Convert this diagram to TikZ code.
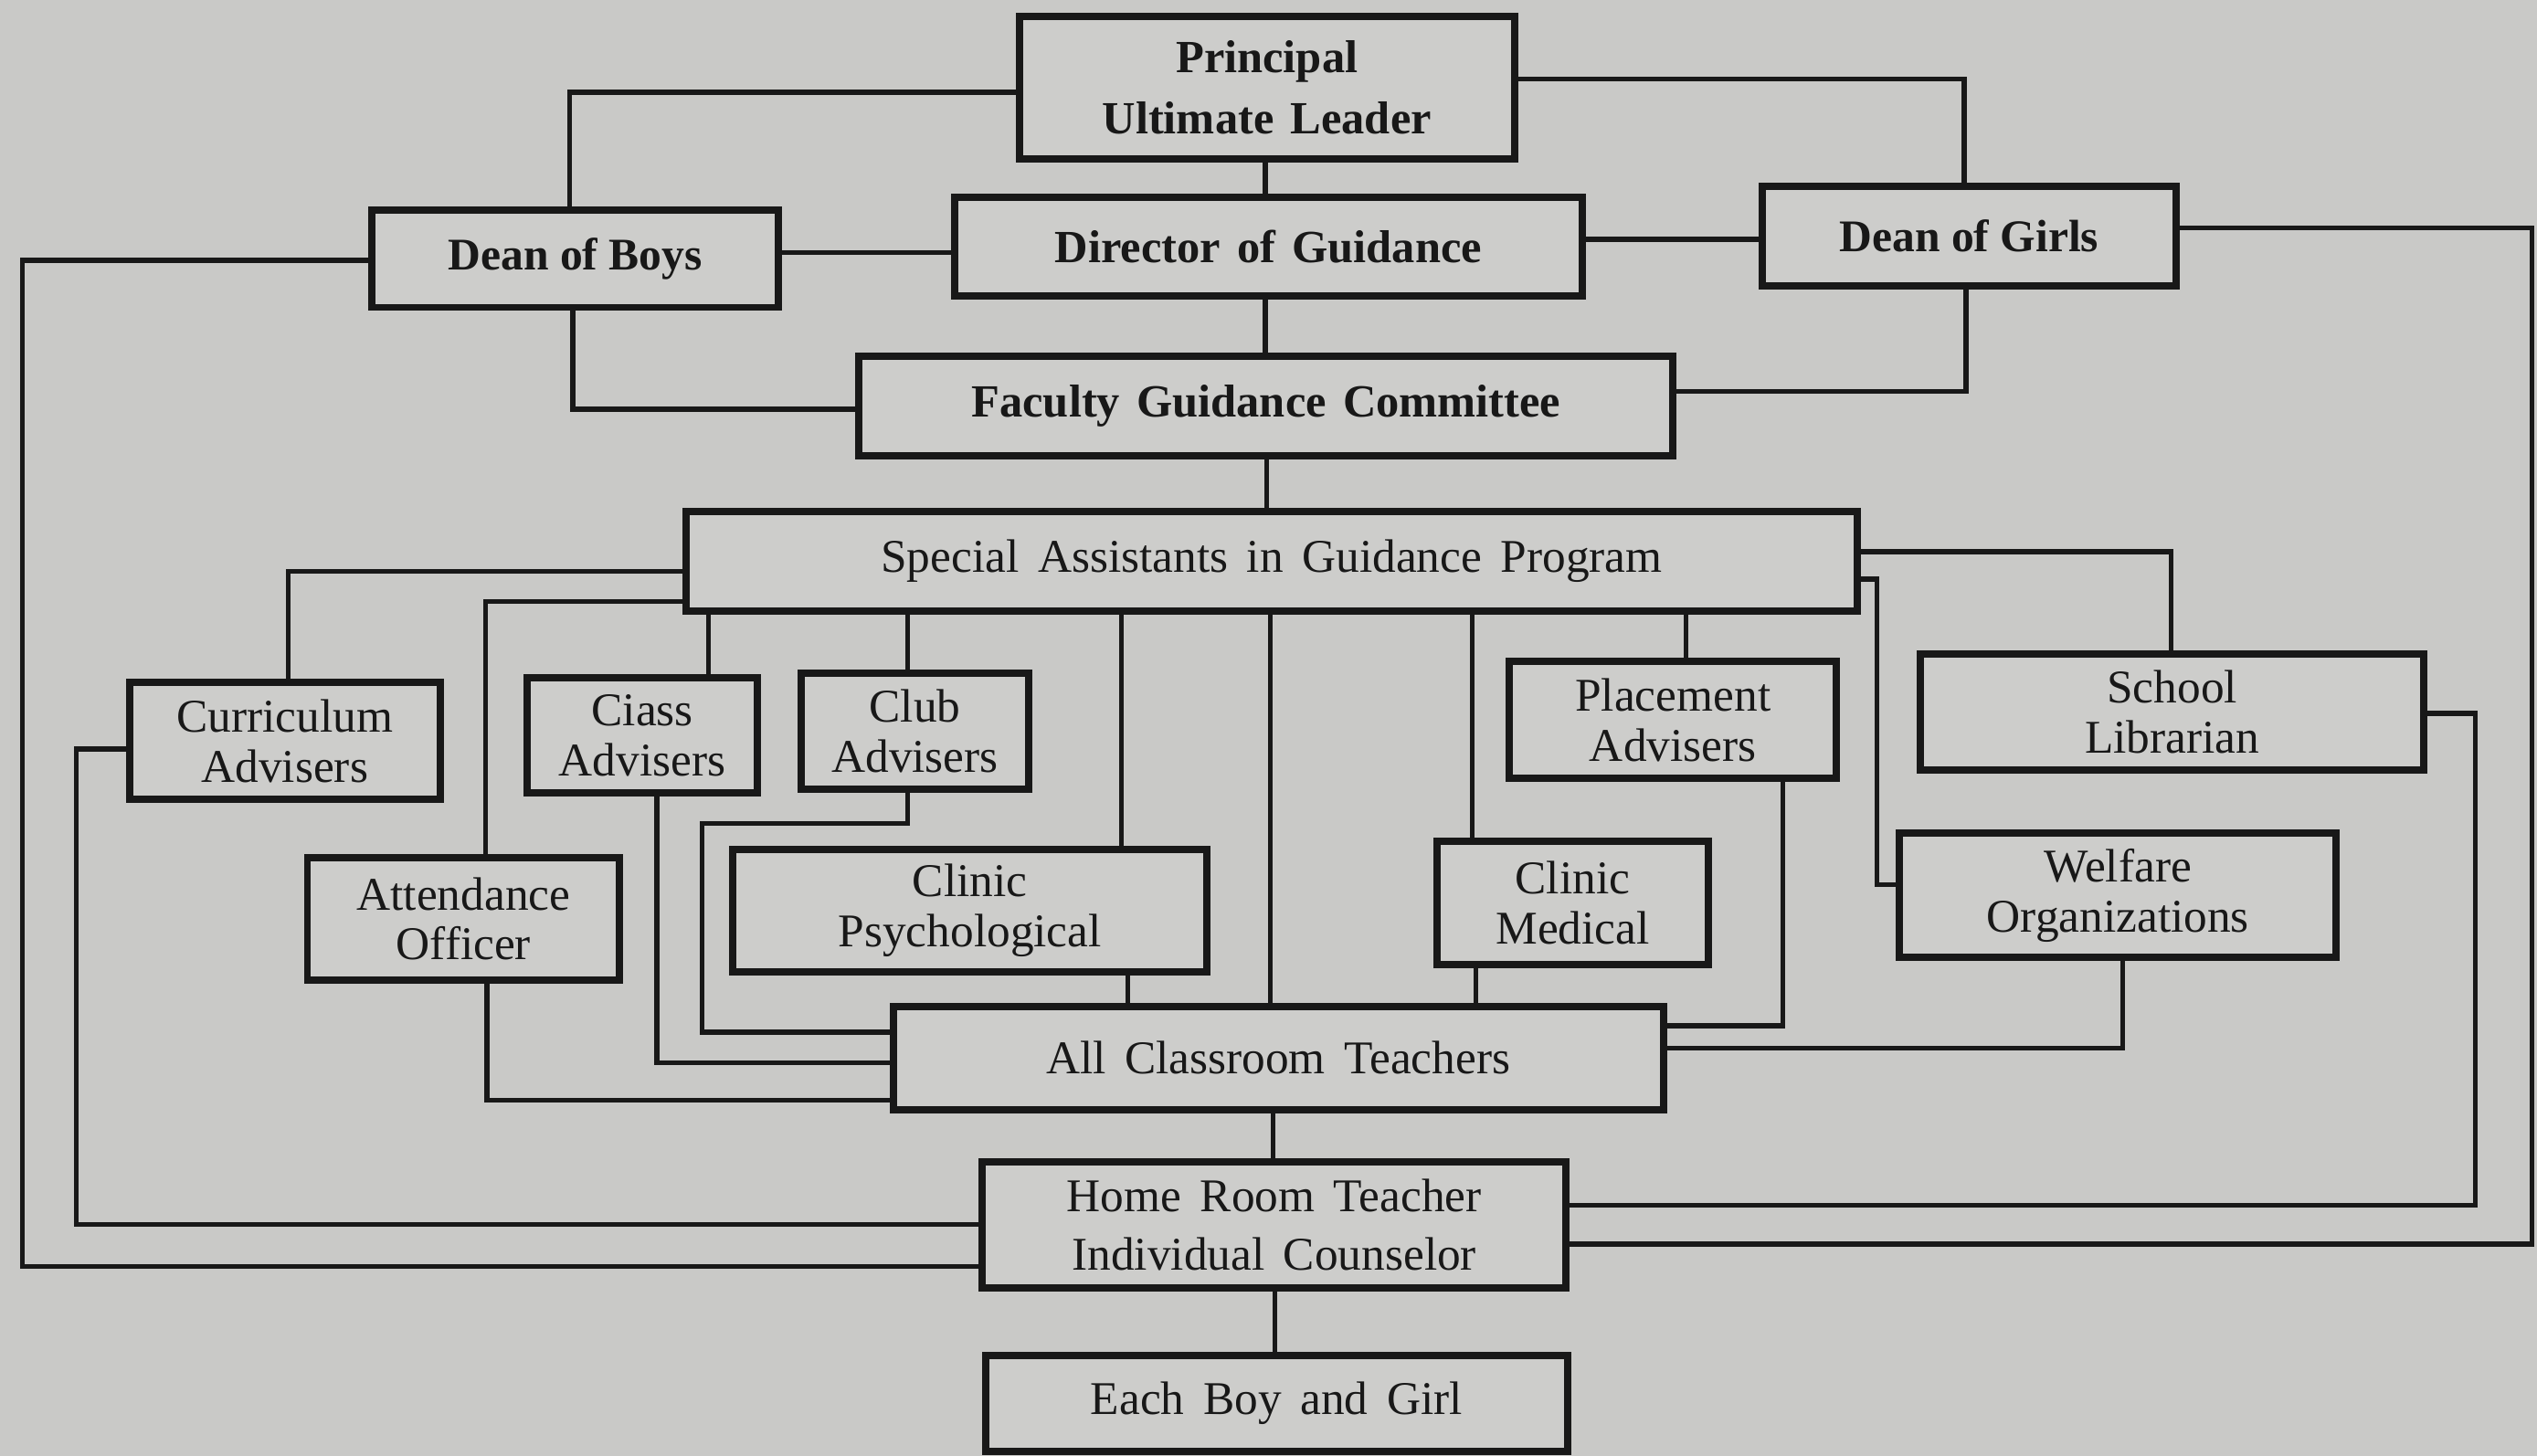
\documentclass[tikz,border=0pt]{standalone}
\usepackage{fontspec}
\setmainfont{Liberation Serif}
\definecolor{paper}{RGB}{201,201,199}
\definecolor{boxfill}{RGB}{205,205,203}
\definecolor{ink}{RGB}{24,24,24}
\newcommand\wideBold{\bfseries\fontsize{28.5}{38}\selectfont\spaceskip=0.36em plus 0.1em\relax}
\newcommand\wideReg{\fontsize{29}{31}\selectfont\spaceskip=0.4em plus 0.1em\relax}
\newcommand\wideRegB{\fontsize{29}{36}\selectfont\spaceskip=0.4em plus 0.1em\relax}
\tikzset{
  box/.style={draw=ink, line width=4.5pt, fill=boxfill, inner sep=0pt, align=center, text=ink},
  bbox/.style={box, font=\wideBold},
  rbox/.style={box, font=\wideReg},
  wire/.style={draw=ink, line width=3pt}
}
\begin{document}
\begin{tikzpicture}[x=1pt,y=-1pt]
\fill[paper] (0,0) rectangle (1568,900);
\useasboundingbox (0,0) rectangle (1568,900);

\coordinate (oL) at (14,783);
\coordinate (iL) at (47,757);
\coordinate (oR) at (1565,769);
\coordinate (iR) at (1530,745);

% boxes
\node[bbox, minimum width=306pt, minimum height=88pt] (P) at (783,54) {Principal\\Ultimate Leader};
\node[bbox, minimum width=251pt, minimum height=60pt, font=\bfseries\fontsize{28}{34}\selectfont] (DB) at (355.5,160) {Dean of Boys};
\node[bbox, minimum width=388pt, minimum height=61pt] (DIR) at (784,152.5) {Director of Guidance};
\node[bbox, minimum width=256pt, minimum height=62pt, font=\bfseries\fontsize{28}{34}\selectfont] (DG) at (1217,146) {Dean of Girls};
\node[bbox, minimum width=503pt, minimum height=62pt] (FGC) at (782.5,251) {Faculty Guidance Committee};
\node[rbox, minimum width=724pt, minimum height=62pt] (SA) at (786,347) {Special Assistants in Guidance Program};
\node[rbox, minimum width=192pt, minimum height=72pt] (CUR) at (176,458) {Curriculum\\Advisers};
\node[rbox, minimum width=142pt, minimum height=71pt] (CL) at (397,454.5) {Ciass\\Advisers};
\node[rbox, minimum width=141pt, minimum height=72pt] (CB) at (565.5,452) {Club\\Advisers};
\node[rbox, minimum width=202pt, minimum height=72pt] (PL) at (1034,445) {Placement\\Advisers};
\node[rbox, minimum width=311pt, minimum height=72pt] (SL) at (1342.5,440) {School\\Librarian};
\node[rbox, minimum width=193pt, minimum height=76pt] (ATT) at (286.5,568) {Attendance\\Officer};
\node[rbox, minimum width=293pt, minimum height=76pt] (CP) at (599.5,563) {Clinic\\Psychological};
\node[rbox, minimum width=168pt, minimum height=76pt] (CM) at (972,558) {Clinic\\Medical};
\node[rbox, minimum width=270pt, minimum height=77pt] (WO) at (1309,553.5) {Welfare\\Organizations};
\node[rbox, minimum width=476pt, minimum height=64pt] (ACT) at (790,654) {All Classroom Teachers};
\node[rbox, font=\wideRegB, minimum width=361pt, minimum height=78pt] (HR) at (787.5,757) {Home Room Teacher\\Individual Counselor};
\node[rbox, minimum width=360pt, minimum height=59pt] (EB) at (789,867.5) {Each Boy and Girl};

% upper connectors
\draw[wire] (P.west |- 0,57) -| (DB.north -| 352,0);
\draw[wire] (P.east |- 0,49) -| (DG.north -| 1214,0);
\draw[wire] (P.south -| 782,0) -- (DIR.north -| 782,0);
\draw[wire] (DB.east |- 0,156) -- (DIR.west |- 0,156);
\draw[wire] (DIR.east |- 0,148) -- (DG.west |- 0,148);
\draw[wire] (DIR.south -| 782,0) -- (FGC.north -| 782,0);
\draw[wire] (DB.south -| 354,0) |- (FGC.west |- 0,253);
\draw[wire] (DG.south -| 1215,0) |- (FGC.east |- 0,242);
\draw[wire] (FGC.south -| 783,0) -- (SA.north -| 783,0);

% outer loops to Home Room Teacher
\draw[wire] (DB.west |- 0,161) -| (oL) -- (HR.west |- oL);
\draw[wire] (CUR.west |- 0,463) -| (iL) -- (HR.west |- iL);
\draw[wire] (DG.east |- 0,141) -| (oR) -- (HR.east |- oR);
\draw[wire] (SL.east |- 0,441) -| (iR) -- (HR.east |- iR);

% special assistants branches
\draw[wire] (SA.west |- 0,353) -| (CUR.north -| 178,0);
\draw[wire] (SA.west |- 0,372) -| (ATT.north -| 300,0);
\draw[wire] (SA.south -| 438,0) -- (CL.north -| 438,0);
\draw[wire] (SA.south -| 561,0) -- (CB.north -| 561,0);
\draw[wire] (SA.south -| 693,0) -- (CP.north -| 693,0);
\draw[wire] (SA.south -| 785,0) -- (ACT.north -| 785,0);
\draw[wire] (SA.south -| 910,0) -- (CM.north -| 910,0);
\draw[wire] (SA.south -| 1042,0) -- (PL.north -| 1042,0);
\draw[wire] (SA.east |- 0,341) -| (SL.north -| 1342,0);
\draw[wire] (SA.east |- 0,358) -| (1160,547) -- (WO.west |- 0,547);

% into All Classroom Teachers
\draw[wire] (CL.south -| 406,0) |- (ACT.west |- 0,657);
\draw[wire] (CB.south -| 561,0) |- (434,509) |- (ACT.west |- 0,638);
\draw[wire] (ATT.south -| 301,0) |- (ACT.west |- 0,680);
\draw[wire] (CP.south -| 697,0) -- (ACT.north -| 697,0);
\draw[wire] (CM.south -| 912,0) -- (ACT.north -| 912,0);
\draw[wire] (PL.south -| 1102,0) |- (ACT.east |- 0,634);
\draw[wire] (WO.south -| 1312,0) |- (ACT.east |- 0,648);

% bottom chain
\draw[wire] (ACT.south -| 787,0) -- (HR.north -| 787,0);
\draw[wire] (HR.south -| 788,0) -- (EB.north -| 788,0);
\end{tikzpicture}
\end{document}
